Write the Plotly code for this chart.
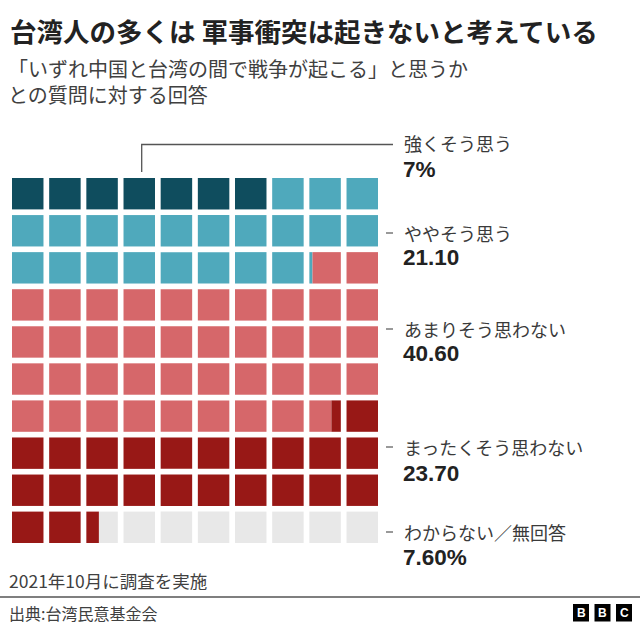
import plotly.graph_objects as go

# ---- data ----
categories = ["強くそう思う", "ややそう思う", "あまりそう思わない", "まったくそう思わない", "わからない／無回答"]
values = [7.0, 21.1, 40.6, 23.7, 7.6]
value_labels = ["7%", "21.10", "40.60", "23.70", "7.60%"]
colors = ["#0f4d5e", "#4fa9bc", "#d6676a", "#981816", "#e8e8e8"]

W, H = 640, 627
FONT = "Noto Sans CJK JP"
NUMFONT = "Liberation Sans"

def px(x):
    return x / W

def py(y):
    return 1 - y / H

fig = go.Figure()

# waffle: 10 x 10 cells, each cell = 1 percentage point
cols = 10
side = 0.847  # square size as fraction of pitch
bounds = [0.0]
for v in values:
    bounds.append(bounds[-1] + v)

shapes = []
for k in range(100):
    row, col = divmod(k, cols)
    for ci in range(len(values)):
        lo, hi = bounds[ci], bounds[ci + 1]
        a, b = max(k, lo), min(k + 1, hi)
        if b - a > 1e-9:
            shapes.append(dict(
                type="rect", xref="x", yref="y", layer="above",
                x0=col + (a - k) * side, x1=col + (b - k) * side,
                y0=row, y1=row + side,
                fillcolor=colors[ci], line=dict(width=0),
            ))

# invisible trace to hold the axes
fig.add_trace(go.Scatter(x=[0, cols - 1 + side], y=[0, 9 + side], mode="markers",
                         marker=dict(opacity=0), hoverinfo="skip", showlegend=False))

# labels
label_y = [143, 233, 329, 447, 532]
num_y = [170, 258, 354, 474, 557]
annotations = []
for i, cat in enumerate(categories):
    annotations.append(dict(x=px(402), y=py(label_y[i]), xref="paper", yref="paper",
                            text=cat, showarrow=False, xanchor="left", yanchor="middle",
                            font=dict(family=FONT, size=18, color="#3a3a3a")))
    annotations.append(dict(x=px(401), y=py(num_y[i]), xref="paper", yref="paper",
                            text="<b>%s</b>" % value_labels[i], showarrow=False,
                            xanchor="left", yanchor="middle",
                            font=dict(family=NUMFONT, size=22.5, color="#222222")))
    if i > 0:
        shapes.append(dict(type="line", xref="paper", yref="paper",
                           x0=px(386), x1=px(393), y0=py(label_y[i]), y1=py(label_y[i]),
                           line=dict(color="#555555", width=1.2)))

# leader for first category
shapes.append(dict(type="path", xref="paper", yref="paper",
                   path="M %f %f L %f %f L %f %f" % (px(141.7), py(172), px(141.7), py(144.5),
                                                     px(393), py(144.5)),
                   line=dict(color="#555555", width=1.3)))

# title & subtitle
annotations.append(dict(x=px(8), y=py(30), xref="paper", yref="paper",
                        text="<b>台湾人の多くは 軍事衝突は起きないと考えている</b>",
                        showarrow=False, xanchor="left", yanchor="middle",
                        font=dict(family=FONT, size=26.5, color="#222222")))
annotations.append(dict(x=px(6), y=py(81), xref="paper", yref="paper",
                        text="「いずれ中国と台湾の間で戦争が起こる」と思うか<br>との質問に対する回答",
                        showarrow=False, xanchor="left", yanchor="middle", align="left",
                        font=dict(family=FONT, size=20, color="#404040")))

# footer
annotations.append(dict(x=px(7), y=py(580), xref="paper", yref="paper",
                        text="2021年10月に調査を実施", showarrow=False,
                        xanchor="left", yanchor="middle",
                        font=dict(family=FONT, size=17.5, color="#404040")))
shapes.append(dict(type="line", xref="paper", yref="paper",
                   x0=0, x1=1, y0=py(597), y1=py(597),
                   line=dict(color="#555555", width=1.3)))
annotations.append(dict(x=px(7), y=py(613), xref="paper", yref="paper",
                        text="出典:台湾民意基金会", showarrow=False,
                        xanchor="left", yanchor="middle",
                        font=dict(family=FONT, size=16, color="#404040")))

# BBC logo
for j, letter in enumerate(["B", "B", "C"]):
    x0 = 573 + j * 21.5
    shapes.append(dict(type="rect", xref="paper", yref="paper",
                       x0=px(x0), x1=px(x0 + 16), y0=py(621.5), y1=py(604),
                       fillcolor="#000000", line=dict(width=0)))
    annotations.append(dict(x=px(x0 + 8), y=py(613), xref="paper", yref="paper",
                            text="<b>%s</b>" % letter, showarrow=False,
                            xanchor="center", yanchor="middle",
                            font=dict(family="Liberation Sans", size=12, color="#ffffff")))

fig.update_layout(
    width=W, height=H,
    margin=dict(l=0, r=0, t=0, b=0),
    paper_bgcolor="white", plot_bgcolor="white",
    showlegend=False,
    shapes=shapes, annotations=annotations,
    xaxis=dict(domain=[px(12), px(378)], range=[0, cols - 1 + side],
               visible=False, fixedrange=True),
    yaxis=dict(domain=[py(543), py(178)], range=[9 + side, 0],
               visible=False, fixedrange=True),
)

fig.write_html("out.html", config={"displayModeBar": False},
               post_script="document.body.style.margin='0';document.body.style.overflow='hidden';")
